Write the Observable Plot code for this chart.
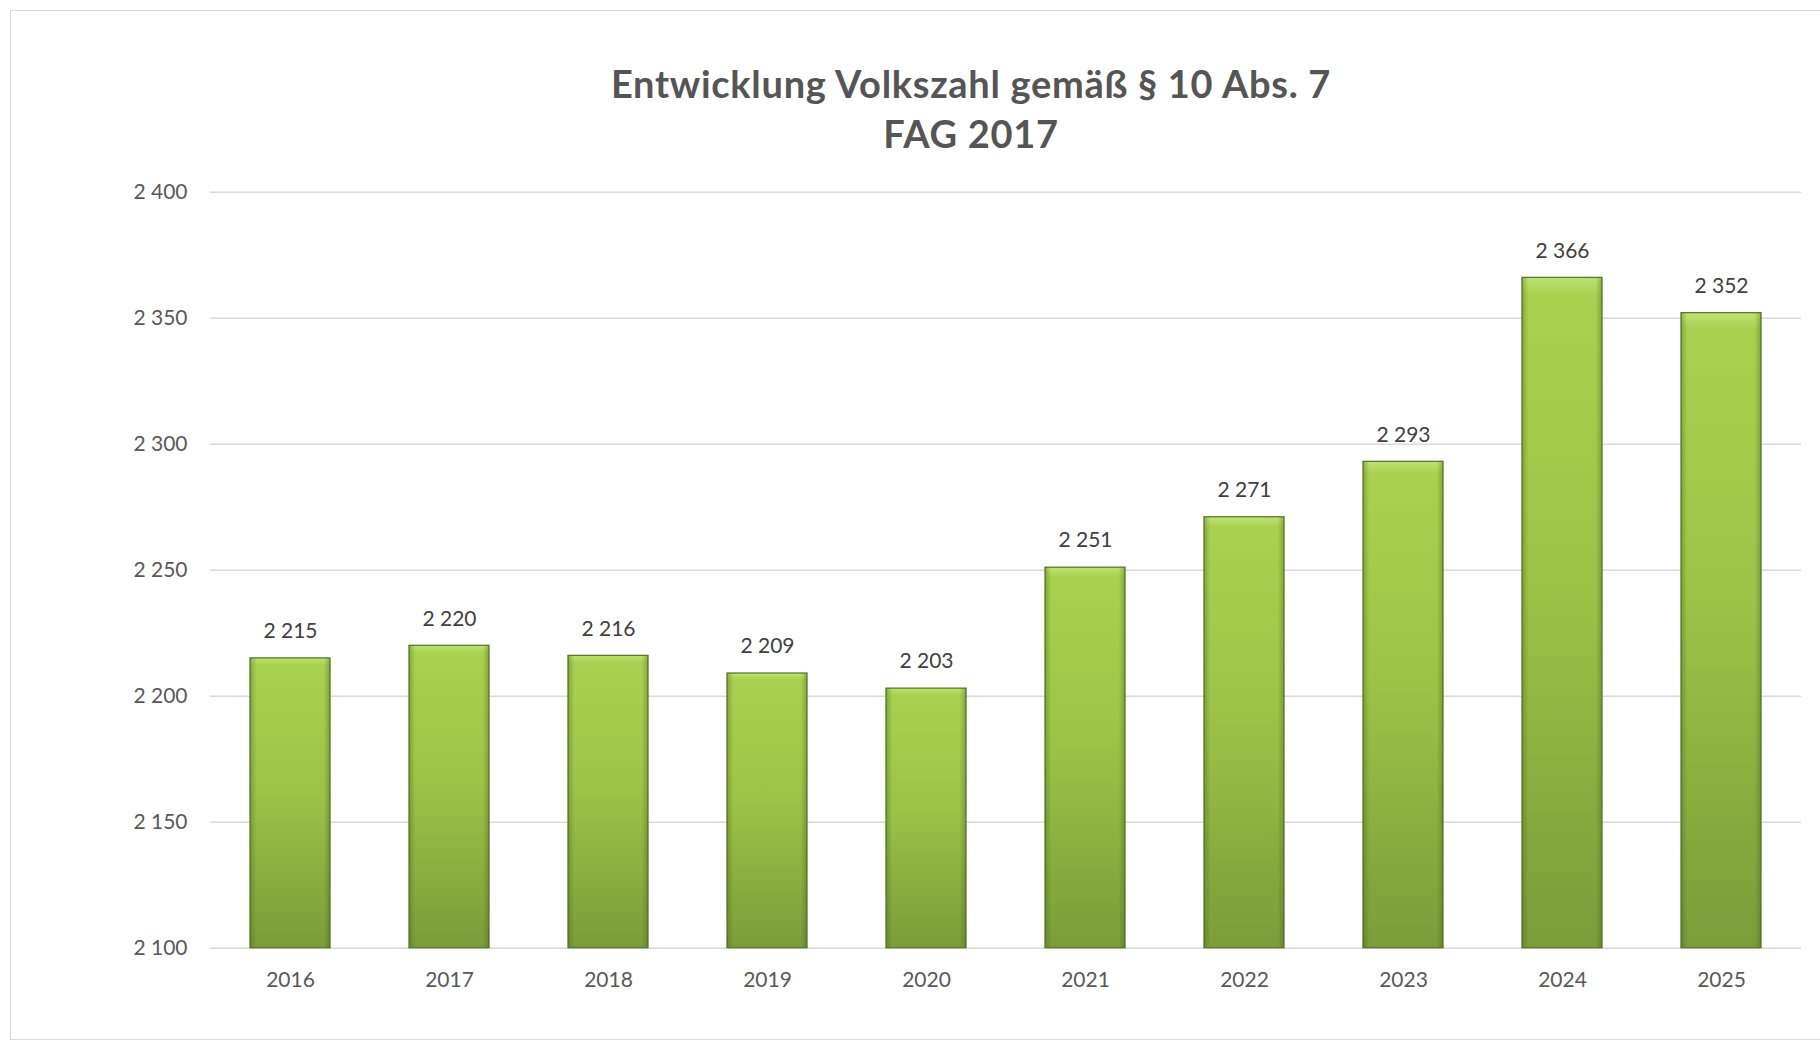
<!DOCTYPE html>
<html>
<head>
<meta charset="utf-8">
<script src="https://cdn.jsdelivr.net/npm/d3@7"></script>
<script src="https://cdn.jsdelivr.net/npm/@observablehq/plot@0.6"></script>
<style>
  html, body { margin: 0; padding: 0; background: #fff; width: 1820px; height: 1043px; overflow: hidden; }
  #frame { position: absolute; left: 10px; top: 10px; width: 1840px; height: 1030px; border: 1.5px solid #d9d9d9; box-sizing: border-box; }
  #title { position: absolute; left: 0; top: 58px; width: 1942px; text-align: center; font-family: Lato, "Open Sans", sans-serif; font-weight: 700; font-size: 38px; letter-spacing: 0.7px; line-height: 50px; color: #555555; }
  #chart { position: absolute; left: 0; top: 150px; }
</style>
</head>
<body>
<div id="frame"></div>
<div id="title">Entwicklung Volkszahl gemäß § 10 Abs. 7<br>FAG 2017</div>
<div id="chart"></div>
<script>
const years = ["2016", "2017", "2018", "2019", "2020", "2021", "2022", "2023", "2024", "2025"];
const population = [2215, 2220, 2216, 2209, 2203, 2251, 2271, 2293, 2366, 2352];
const yTicks = [2100, 2150, 2200, 2250, 2300, 2350, 2400];

const data = years.map((y, i) => ({year: y, value: population[i]}));
const locale = d3.formatLocale({decimal: ",", thousands: " ", grouping: [3], currency: ["", ""]});
const fmt = locale.format(",");

const chart = Plot.plot({
  width: 1820,
  height: 893,
  marginTop: 41.7,
  marginBottom: 95.3,
  marginLeft: 210,
  marginRight: 19,
  style: {fontFamily: "Lato, 'Open Sans', sans-serif", fontSize: "21px", color: "#595959", background: "transparent"},
  x: {domain: years, paddingInner: 0.497, paddingOuter: 0.2485, label: null},
  y: {domain: [2100, 2400], label: null},
  marks: [
    Plot.gridY(yTicks, {stroke: "#d9d9d9", strokeOpacity: 1, strokeWidth: 1.5}),
    Plot.axisY(yTicks, {tickSize: 0, tickPadding: 23, tickFormat: fmt, fontSize: 21, fill: "#595959"}),
    Plot.axisX({tickSize: 0, tickPadding: 24, fontSize: 21, fill: "#595959"}),
    Plot.barY(data, {x: "year", y1: 2100, y2: "value", fill: "url(#barGrad)", stroke: "#5b7a2a", strokeWidth: 1.3}),
    Plot.barY(data, {x: "year", y1: 2100, y2: "value", fill: "url(#edgeGrad)"}),
    Plot.text(data, {x: "year", y: "value", text: d => fmt(d.value), dy: -27, fontSize: 21, fill: "#404040"})
  ]
});

d3.select(chart).insert("defs", ":first-child").html(`
  <linearGradient id="barGrad" x1="0" y1="0" x2="0" y2="1">
    <stop offset="0" stop-color="#c0e275"/>
    <stop offset="0.025" stop-color="#a8d150"/>
    <stop offset="0.45" stop-color="#9cc447"/>
    <stop offset="1" stop-color="#7b9c39"/>
  </linearGradient>
  <linearGradient id="edgeGrad" x1="0" y1="0" x2="1" y2="0">
    <stop offset="0" stop-color="#3f5a17" stop-opacity="0.35"/>
    <stop offset="0.08" stop-color="#3f5a17" stop-opacity="0"/>
    <stop offset="0.92" stop-color="#3f5a17" stop-opacity="0"/>
    <stop offset="1" stop-color="#3f5a17" stop-opacity="0.35"/>
  </linearGradient>`);

document.getElementById("chart").appendChild(chart);
</script>
</body>
</html>
